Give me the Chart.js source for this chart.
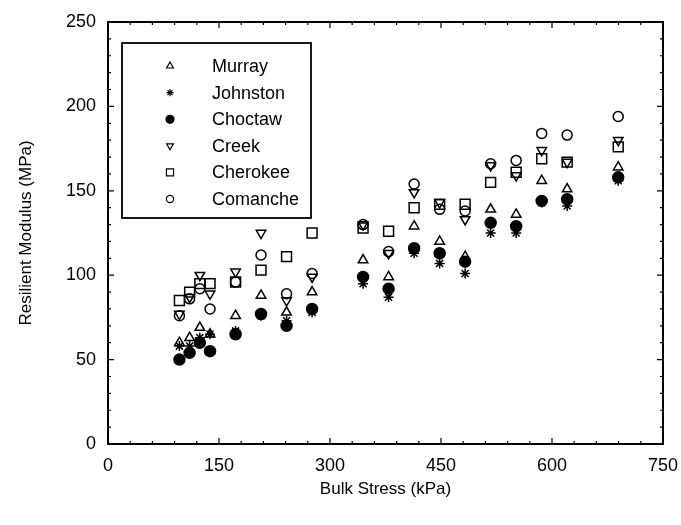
<!DOCTYPE html>
<html>
<head>
<meta charset="utf-8">
<script src="https://cdn.jsdelivr.net/npm/chart.js@4/dist/chart.umd.min.js"></script>
<style>
  html, body { margin: 0; padding: 0; background: #fff; }
  #wrap { width: 681px; height: 525px; }
</style>
</head>
<body>
<div id="wrap"><canvas id="chart" width="681" height="525"></canvas></div>
<script>
// bulk stress levels (kPa) of the test sequence
var bulkStress = [96.5, 110.3, 124.1, 137.9, 172.4, 206.8, 241.3, 275.8, 344.7, 379.2, 413.7, 448.2, 482.6, 517.1, 551.6, 586.1, 620.5, 689.5];

// resilient modulus (MPa) per county
var murray   = [60, 63, 69, 65, 76, 88, 78, 90, 109, 99, 129, 120, 111, 139, 136, 156, 151, 164];
var johnston = [58, 58, 63, 65, 67, 76, 73, 78, 95, 87, 113, 107, 101, 125, 125, 143, 141, 156];
var choctaw  = [50, 54, 60, 55, 65, 77, 70, 80, 99, 92, 116, 113, 108, 131, 129, 144, 145, 158];
var creek    = [77, 87, 100, 89, 102, 125, 85, 99, 130, 113, 149, 143, 133, 165, 159, 174, 167, 180];
var cherokee = [85, 90, 95, 95, 96, 103, 111, 125, 128, 126, 140, 142, 142, 155, 161, 169, 167, 176];
var comanche = [76, 86, 92, 80, 96, 112, 89, 101, 130, 114, 154, 139, 138, 166, 168, 184, 183, 194];

var xTicks = [0, 150, 300, 450, 600, 750];
var yTicks = [0, 50, 100, 150, 200, 250];

var ink = '#000';
var fontFamily = '"Liberation Sans", Arial, sans-serif';

function toPoints(values) {
  var pts = [];
  for (var i = 0; i < values.length; i++) {
    pts.push({x: bulkStress[i], y: values[i]});
  }
  return pts;
}

function makeSet(label, values, style, radius, filled, rotation) {
  return {
    label: label,
    data: toPoints(values),
    pointStyle: style,
    pointRadius: radius,
    pointRotation: rotation || 0,
    pointBorderWidth: 1.5,
    pointBorderColor: ink,
    pointBackgroundColor: filled ? ink : 'rgba(0,0,0,0)',
    showLine: false
  };
}

var datasets = [
  makeSet('Murray', murray, 'triangle', 5.5, false),
  makeSet('Johnston', johnston, 'star', 5, false),
  makeSet('Choctaw', choctaw, 'circle', 5.5, true),
  makeSet('Creek', creek, 'triangle', 5.5, false, 180),
  makeSet('Cherokee', cherokee, 'rect', 7, false),
  makeSet('Comanche', comanche, 'circle', 5, false)
];

// frame with ticks pointing inward, like the original plot
var framePlugin = {
  id: 'frame',
  afterDraw: function(chart) {
    var ctx = chart.ctx;
    var a = chart.chartArea;
    var xs = chart.scales.x, ys = chart.scales.y;
    ctx.save();
    ctx.strokeStyle = ink;
    ctx.lineWidth = 2;
    ctx.strokeRect(a.left, a.top, a.right - a.left, a.bottom - a.top);
    ctx.lineWidth = 1.2;
    ctx.beginPath();
    var v, p, len;
    for (v = xs.min; v <= xs.max; v += 30) {
      p = xs.getPixelForValue(v);
      len = (v % 150 === 0) ? 6 : 3;
      ctx.moveTo(p, a.bottom); ctx.lineTo(p, a.bottom - len);
      ctx.moveTo(p, a.top); ctx.lineTo(p, a.top + len);
    }
    for (v = ys.min; v <= ys.max; v += 10) {
      p = ys.getPixelForValue(v);
      len = (v % 50 === 0) ? 6 : 3;
      ctx.moveTo(a.left, p); ctx.lineTo(a.left + len, p);
      ctx.moveTo(a.right, p); ctx.lineTo(a.right - len, p);
    }
    ctx.stroke();
    ctx.restore();
  }
};

// legend box inside the plot area
var legendPlugin = {
  id: 'boxLegend',
  afterDraw: function(chart) {
    var ctx = chart.ctx;
    var a = chart.chartArea;
    var bx = a.left + 14, by = a.top + 21, bw = 189, bh = 175;
    ctx.save();
    ctx.strokeStyle = ink;
    ctx.lineWidth = 1.8;
    ctx.strokeRect(bx, by, bw, bh);
    ctx.font = '18px ' + fontFamily;
    ctx.textBaseline = 'middle';
    for (var i = 0; i < chart.data.datasets.length; i++) {
      var ds = chart.data.datasets[i];
      var y = by + 23 + i * 26.6;
      ctx.lineWidth = 1.2;
      ctx.strokeStyle = ink;
      ctx.fillStyle = ds.pointBackgroundColor;
      Chart.helpers.drawPoint(ctx, {
        pointStyle: ds.pointStyle,
        rotation: ds.pointRotation,
        radius: ds.pointRadius * 0.72,
        borderWidth: 1.2
      }, bx + 48, y);
      ctx.fillStyle = ink;
      ctx.fillText(ds.label, bx + 90, y + 1);
    }
    ctx.restore();
  }
};

var ctx = document.getElementById('chart').getContext('2d');
var chart = new Chart(ctx, {
  type: 'scatter',
  data: {datasets: datasets},
  plugins: [framePlugin, legendPlugin],
  options: {
    responsive: false,
    animation: false,
    layout: {padding: {top: 22, right: 14, bottom: 0, left: 0}},
    plugins: {
      legend: {display: false},
      tooltip: {enabled: false}
    },
    scales: {
      x: {
        type: 'linear',
        min: 0,
        max: 750,
        afterFit: function(scale) { scale.height = 81; },
        afterBuildTicks: function(scale) {
          scale.ticks = xTicks.map(function(v) { return {value: v}; });
        },
        grid: {display: false},
        border: {display: false},
        ticks: {color: ink, padding: 3, font: {size: 18, family: fontFamily}},
        title: {
          display: true,
          text: 'Bulk Stress (kPa)',
          color: ink,
          padding: {top: 0, bottom: 25},
          font: {size: 17, family: fontFamily}
        }
      },
      y: {
        type: 'linear',
        min: 0,
        max: 250,
        afterFit: function(scale) { scale.width = 108; },
        afterBuildTicks: function(scale) {
          scale.ticks = yTicks.map(function(v) { return {value: v}; });
        },
        grid: {display: false},
        border: {display: false},
        ticks: {color: ink, padding: 4, font: {size: 18, family: fontFamily}},
        title: {
          display: true,
          text: 'Resilient Modulus (MPa)',
          color: ink,
          padding: {top: 16, bottom: 4},
          font: {size: 17, family: fontFamily}
        }
      }
    }
  }
});
</script>
</body>
</html>
